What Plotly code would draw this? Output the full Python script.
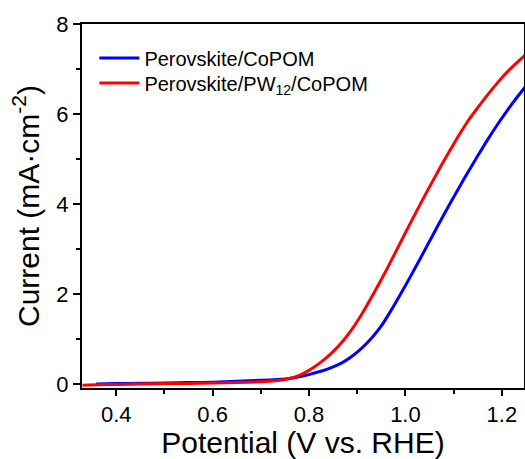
import plotly.graph_objects as go

red_x = [0.33, 0.36, 0.40, 0.45, 0.50, 0.55, 0.60, 0.65, 0.70, 0.73, 0.75, 0.77, 0.79, 0.81, 0.83, 0.85,
         0.87, 0.89, 0.91, 0.93, 0.95, 0.97, 0.99, 1.01, 1.03, 1.05, 1.07, 1.09, 1.11, 1.13, 1.15, 1.17,
         1.19, 1.21, 1.23, 1.25]
red_y = [-0.03, -0.02, -0.01, 0.0, 0.01, 0.01, 0.02, 0.03, 0.05, 0.07, 0.10, 0.15, 0.24, 0.37, 0.53, 0.72,
         0.95, 1.23, 1.56, 1.93, 2.32, 2.73, 3.15, 3.57, 3.98, 4.38, 4.77, 5.15, 5.51, 5.85, 6.14, 6.42,
         6.68, 6.92, 7.13, 7.32]

blue_x = [0.358, 0.40, 0.45, 0.50, 0.55, 0.60, 0.65, 0.70, 0.75, 0.77, 0.79, 0.81, 0.83, 0.85, 0.87,
          0.89, 0.91, 0.93, 0.95, 0.97, 0.99, 1.01, 1.03, 1.05, 1.07, 1.09, 1.11, 1.13, 1.15, 1.17, 1.19,
          1.21, 1.23, 1.25]
blue_y = [0.0, 0.01, 0.015, 0.02, 0.03, 0.04, 0.06, 0.08, 0.11, 0.14, 0.18, 0.24, 0.30, 0.38, 0.48,
          0.62, 0.80, 1.02, 1.29, 1.63, 2.00, 2.38, 2.77, 3.17, 3.57, 3.96, 4.34, 4.71, 5.07, 5.42, 5.75,
          6.06, 6.35, 6.62]

names = ["Perovskite/CoPOM", "Perovskite/PW<sub>12</sub>/CoPOM"]
x_ticks = [0.4, 0.6, 0.8, 1.0, 1.2]
y_ticks = [0, 2, 4, 6, 8]

fig = go.Figure()
fig.add_trace(go.Scatter(x=blue_x, y=blue_y, mode="lines", name=names[0], legend="legend",
                         line=dict(color="#0000ff", width=3, shape="spline", smoothing=0.6)))
fig.add_trace(go.Scatter(x=red_x, y=red_y, mode="lines", name=names[1], legend="legend2",
                         line=dict(color="#ff0000", width=3, shape="spline", smoothing=0.6)))

font_family = "Liberation Sans, Arial, sans-serif"
leg_common = dict(xanchor="left", yanchor="middle", bgcolor="rgba(0,0,0,0)",
                  font=dict(size=20, family=font_family), itemwidth=40)
fig.update_layout(
    width=525, height=459,
    margin=dict(l=82, r=1, t=24, b=71),
    paper_bgcolor="white", plot_bgcolor="white",
    font=dict(family=font_family, color="black"),
    showlegend=True,
    legend=dict(x=0.028, y=0.9066, **leg_common),
    legend2=dict(x=0.028, y=0.838, **leg_common),
    xaxis=dict(range=[0.329, 1.246], tickvals=x_ticks, tickformat=".1f", automargin=False,
               showgrid=False, zeroline=False, showline=True, linecolor="black", linewidth=2,
               mirror=True, ticks="outside", ticklen=6, tickwidth=1.5, tickcolor="black",
               tickfont=dict(size=22),
               minor=dict(tickvals=[0.5, 0.7, 0.9, 1.1], ticks="outside", ticklen=4, tickwidth=1.5,
                          tickcolor="black"),
               title=dict(text="Potential (V vs. RHE)", font=dict(size=30), standoff=0)),
    yaxis=dict(range=[-0.09, 8], tickvals=y_ticks, automargin=False,
               showgrid=False, zeroline=False, showline=True, linecolor="black", linewidth=2,
               mirror=True, ticks="outside", ticklen=7, tickwidth=1.5, tickcolor="black",
               tickfont=dict(size=22),
               minor=dict(tickvals=[1, 3, 5, 7], ticks="outside", ticklen=4, tickwidth=1.5,
                          tickcolor="black"),
               title=dict(text="Current (mA·cm<sup>-2</sup>)", font=dict(size=30), standoff=8)),
)

fig.write_html("out.html")
